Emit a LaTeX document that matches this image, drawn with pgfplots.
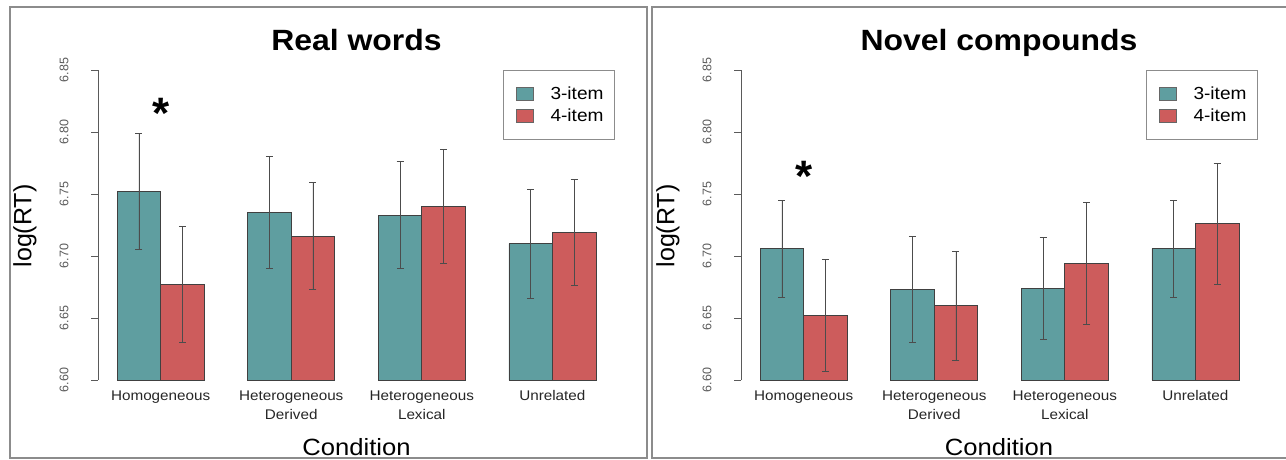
\documentclass[border=0pt]{standalone}
\usepackage{pgfplots}
\pgfplotsset{compat=1.18}
\usepackage{fontspec}
\setmainfont{Liberation Sans}[FakeStretch=1.09]
\newfontfamily\plainfont{Liberation Sans}
\definecolor{teal3}{HTML}{5F9EA0}
\definecolor{red4}{HTML}{CD5C5C}
\definecolor{framegray}{HTML}{8C8C8C}
\definecolor{tickgray}{HTML}{5A5A5A}
\pgfplotsset{
  panel/.style={
    scale only axis, width=517pt, height=310pt, anchor=south west,
    xmin=0.56, xmax=12.44, ymin=6.60, ymax=6.85,
    axis y line*=left, axis x line*=bottom,
    x axis line style={draw=none},
    y axis line style={draw=tickgray, line width=0.8pt},
    xtick={2,5,8,11},
    xticklabels={Homogeneous, {Heterogeneous\\Derived}, {Heterogeneous\\Lexical}, Unrelated},
    xticklabel style={align=center, font=\fontsize{14}{19}\selectfont, text=black!85},
    x tick style={draw=none},
    major tick length=7pt, tick align=outside,
    y tick style={draw=tickgray, line width=0.8pt},
    ytick={6.60,6.65,6.70,6.75,6.80,6.85},
    /pgf/number format/assume math mode=true,
    yticklabel style={rotate=90, anchor=south, font=\plainfont\fontsize{12.5}{12.5}\selectfont, text=tickgray,
      /pgf/number format/fixed, /pgf/number format/fixed zerofill, /pgf/number format/precision=2},
    yticklabel shift=19pt,
    legend image code/.code={\path (-4pt,0pt) (31pt,0pt);\draw[#1, draw=black!60, line width=0.6pt] (0pt,-6.5pt) rectangle (17pt,6.5pt);},
    legend style={at={(1,1)}, anchor=north east, draw=framegray, line width=1pt,
      font=\fontsize{17.5}{20}\selectfont, inner xsep=8pt, inner ysep=13pt, row sep=2.5pt,
      nodes={inner sep=3pt}},
    legend cell align=left,
  },
  bars/.style={ybar, bar width=1, bar shift=0pt, fill=#1, draw=black!75, line width=0.6pt,
    error bars/.cd, y dir=both, y explicit,
    error bar style={black!70, line width=0.7pt},
    error mark=-,
    error mark options={black!70, line width=0.7pt, mark size=3.5pt, rotate=90}},
}
\begin{document}
\begin{tikzpicture}
\useasboundingbox (0pt,0pt) rectangle (1286pt,459pt);
\draw[framegray, line width=1.3pt] (10pt,1pt) rectangle (647pt,452pt);
\draw[framegray, line width=1.3pt] (1286pt,452pt) -- (652pt,452pt) -- (652pt,1pt) -- (1286pt,1pt);

\begin{axis}[panel, at={(98pt,79pt)}]
\addplot[bars=teal3] coordinates {
  (1.5,6.752) +- (0,0.047)
  (4.5,6.735) +- (0,0.045)
  (7.5,6.733) +- (0,0.043)
  (10.5,6.710) +- (0,0.044)
};
\addlegendentry{3-item}
\addplot[bars=red4] coordinates {
  (2.5,6.677) +- (0,0.047)
  (5.5,6.716) +- (0,0.043)
  (8.5,6.740) +- (0,0.046)
  (11.5,6.719) +- (0,0.043)
};
\addlegendentry{4-item}
\node[font=\plainfont\fontsize{44}{44}\selectfont\bfseries, yshift=-9.5pt] at (axis cs:2,6.823) {*};
\end{axis}

\begin{axis}[panel, at={(741pt,79pt)}]
\addplot[bars=teal3] coordinates {
  (1.5,6.706) +- (0,0.039)
  (4.5,6.673) +- (0,0.043)
  (7.5,6.674) +- (0,0.041)
  (10.5,6.706) +- (0,0.039)
};
\addlegendentry{3-item}
\addplot[bars=red4] coordinates {
  (2.5,6.652) +- (0,0.045)
  (5.5,6.660) +- (0,0.044)
  (8.5,6.694) +- (0,0.049)
  (11.5,6.726) +- (0,0.049)
};
\addlegendentry{4-item}
\node[font=\plainfont\fontsize{44}{44}\selectfont\bfseries, yshift=-9.5pt] at (axis cs:2,6.772) {*};
\end{axis}

\node[font=\fontsize{29.3}{29.3}\selectfont\bfseries, anchor=base] at (356.5pt,408pt) {Real words};
\node[font=\fontsize{29.3}{29.3}\selectfont\bfseries, anchor=base] at (999pt,408pt) {Novel compounds};
\node[font=\fontsize{23.5}{23.5}\selectfont, anchor=base] at (356.5pt,4pt) {Condition};
\node[font=\fontsize{23.5}{23.5}\selectfont, anchor=base] at (999pt,4pt) {Condition};
\node[font=\plainfont\fontsize{25}{25}\selectfont, rotate=90] at (25pt,233pt) {log(RT)};
\node[font=\plainfont\fontsize{25}{25}\selectfont, rotate=90] at (668pt,233pt) {log(RT)};
\end{tikzpicture}
\end{document}
